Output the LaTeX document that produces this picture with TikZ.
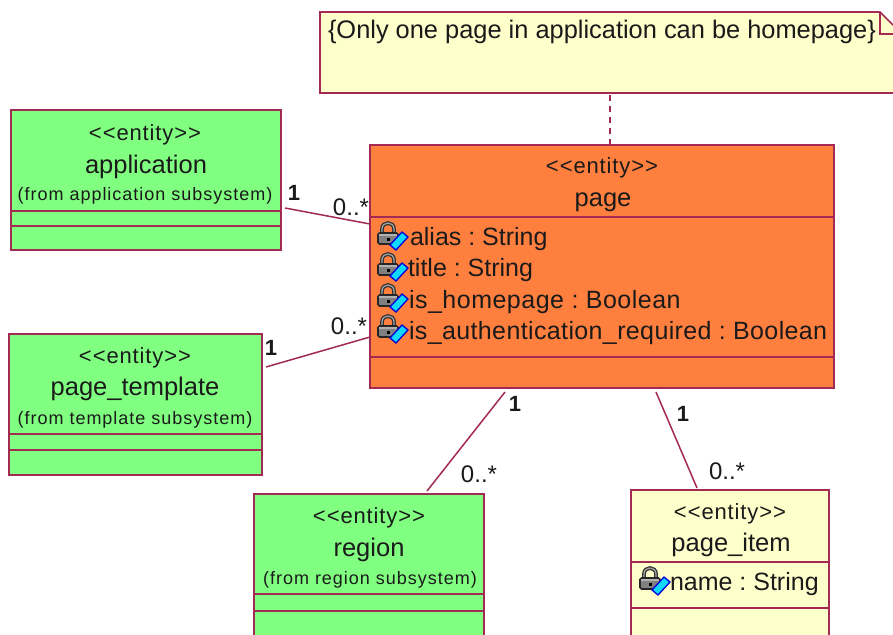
\documentclass[tikz,border=0pt]{standalone}
\usepackage{fontspec}
\setmainfont{Liberation Sans}
\definecolor{edgec}{HTML}{A32A52}
\definecolor{greenf}{HTML}{80FF80}
\definecolor{orangef}{HTML}{FF7F3F}
\definecolor{yellowf}{HTML}{FFFFCC}
\definecolor{txt}{HTML}{1A1A1A}
\definecolor{keyc}{HTML}{10D8FF}
\newcommand{\stereo}{{<}\kern1pt{<}entity{>}\kern1pt{>}}
\tikzset{
  x=1pt,y=-1pt,
  every node/.append style={outer sep=0pt,execute at begin node=\frenchspacing},
  sep/.style={draw=edgec,line width=1.6pt},
  assoc/.style={draw=edgec,line width=1.5pt},
  boxshape/.style={draw=edgec,line width=1.6pt,inner sep=0pt,anchor=north west},
  ster/.style={font=\fontsize{22}{26}\selectfont\addfontfeature{LetterSpace=4},text=txt,inner sep=0pt},
  cname/.style={font=\fontsize{25.5}{28}\selectfont,text=txt,inner sep=0pt},
  origin/.style={font=\fontsize{18}{20}\selectfont\addfontfeature{LetterSpace=5.5},text=txt,inner sep=0pt},
  attr/.style={font=\fontsize{25}{28}\selectfont,text=txt,inner sep=0pt,anchor=west},
  mult/.style={font=\fontsize{24}{26}\selectfont,text=txt,inner sep=0pt},
  multone/.style={font=\bfseries\fontsize{22}{26}\selectfont,text=txt,inner sep=0pt},
  lockicon/.pic={
    \draw[line width=3.8pt,draw=black!80] (-6,-2) -- (-6,-6) .. controls (-6,-14) and (6,-14) .. (6,-6) -- (6,-2);
    \draw[line width=1.2pt,draw=black!35] (-6,-2) -- (-6,-6) .. controls (-6,-14) and (6,-14) .. (6,-6) -- (6,-2);
    \draw[line width=1.6pt,draw=black!85,fill=black!50,rounded corners=1.5pt] (-10,-2) rectangle (10,9);
    \fill[white!70!black] (-9,-1) rectangle (9,1);
    \fill[black] (-1,3) rectangle (2,6);
    \draw[line width=1.3pt,draw=blue!85!black,fill=keyc] (2,10) -- (14,-3) -- (20,2) -- (8,15) -- cycle;
  },
}
\begin{document}
\begin{tikzpicture}
\useasboundingbox (0,0) rectangle (893,634);
\fill[white] (0,0) rectangle (893,634);

% note
\fill[yellowf] (320,93) -- (320,12) -- (880,12) -- (893,25) -- (893,93) -- cycle;
\draw[edgec,line width=1.6pt] (893,93) -- (320,93) -- (320,12) -- (880,12) -- (893,25);
\draw[edgec,line width=1.6pt] (880,12) -- (880,34) -- (893,34);
\node[attr,font=\fontsize{25.4}{28}\selectfont] (notetext) at (328,32) {\{Only one page in application can be homepage\}};
\coordinate (noteanchor) at (610,95);

% page
\node[boxshape,fill=orangef,minimum width=464pt,minimum height=243pt] (page) at (370,145) {};
\draw[sep] (370,217) -- (834,217);
\draw[sep] (370,357) -- (834,357);
\node[ster] (pageS) at (602,168) {\stereo};
\node[cname] (pageN) at (603,202) {page};
\pic at (388,235) {lockicon};
\pic at (388,266) {lockicon};
\pic at (388,297) {lockicon};
\pic at (388,328) {lockicon};
\node[attr] (a1) at (410,239) {alias : String};
\node[attr] (a2) at (408,270) {title : String};
\node[attr,font=\fontsize{25}{28}\selectfont\addfontfeature{LetterSpace=2}] (a3) at (409,302) {is\_homepage : Boolean};
\node[attr,font=\fontsize{25}{28}\selectfont\addfontfeature{LetterSpace=1.5}] (a4) at (409,333) {is\_authentication\_required : Boolean};

% application
\node[boxshape,fill=greenf,minimum width=270pt,minimum height=140pt] (app) at (11,110) {};
\draw[sep] (11,211) -- (281,211);
\draw[sep] (11,226) -- (281,226);
\node[ster] (appS) at (145,135) {\stereo};
\node[cname] (appN) at (146,167) {application};
\node[origin] (appO) at (145,196) {(from application subsystem)};

% page_template
\node[boxshape,fill=greenf,minimum width=253pt,minimum height=141pt] (tpl) at (9,334) {};
\draw[sep] (9,434) -- (262,434);
\draw[sep] (9,450) -- (262,450);
\node[ster] (tplS) at (135,358) {\stereo};
\node[cname] (tplN) at (135,389) {page\_template};
\node[origin] (tplO) at (135,420) {(from template subsystem)};

% region
\node[boxshape,fill=greenf,minimum width=230pt,minimum height=150pt] (reg) at (254,494) {};
\draw[sep] (254,594) -- (484,594);
\draw[sep] (254,611) -- (484,611);
\node[ster] (regS) at (369,518) {\stereo};
\node[cname] (regN) at (369,550) {region};
\node[origin] (regO) at (370,580) {(from region subsystem)};

% page_item
\node[boxshape,fill=yellowf,minimum width=198pt,minimum height=154pt] (item) at (631,490) {};
\draw[sep] (631,562) -- (829,562);
\draw[sep] (631,608) -- (829,608);
\node[ster] (itemS) at (730,514) {\stereo};
\node[cname] (itemN) at (731,545) {page\_item};
\pic at (650,580) {lockicon};
\node[attr] (i1) at (670,584) {name : String};

% connector ends
\coordinate (appEnd) at (285,208);
\coordinate (pageA) at (370,224);
\coordinate (tplEnd) at (266,367);
\coordinate (pageT) at (370,337);
\coordinate (pageR) at (505,392);
\coordinate (regEnd) at (427,491);
\coordinate (pageI) at (656,392);
\coordinate (itemEnd) at (697,488);

\draw[assoc] (appEnd) -- (pageA);
\draw[assoc] (tplEnd) -- (pageT);
\draw[assoc] (pageR) -- (regEnd);
\draw[assoc] (pageI) -- (itemEnd);
\draw[assoc,dash pattern=on 6pt off 5pt] (noteanchor) -- (page.north -| noteanchor);

% multiplicities
\node[multone] (m1) at (294,193) {1};
\node[mult] (m2) at (351,207) {0..*};
\node[multone] (m3) at (271,348) {1};
\node[mult] (m4) at (349,326) {0..*};
\node[multone] (m5) at (515,404) {1};
\node[mult] (m6) at (479,474) {0..*};
\node[multone] (m7) at (683,414) {1};
\node[mult] (m8) at (727,471) {0..*};
\end{tikzpicture}
\end{document}
